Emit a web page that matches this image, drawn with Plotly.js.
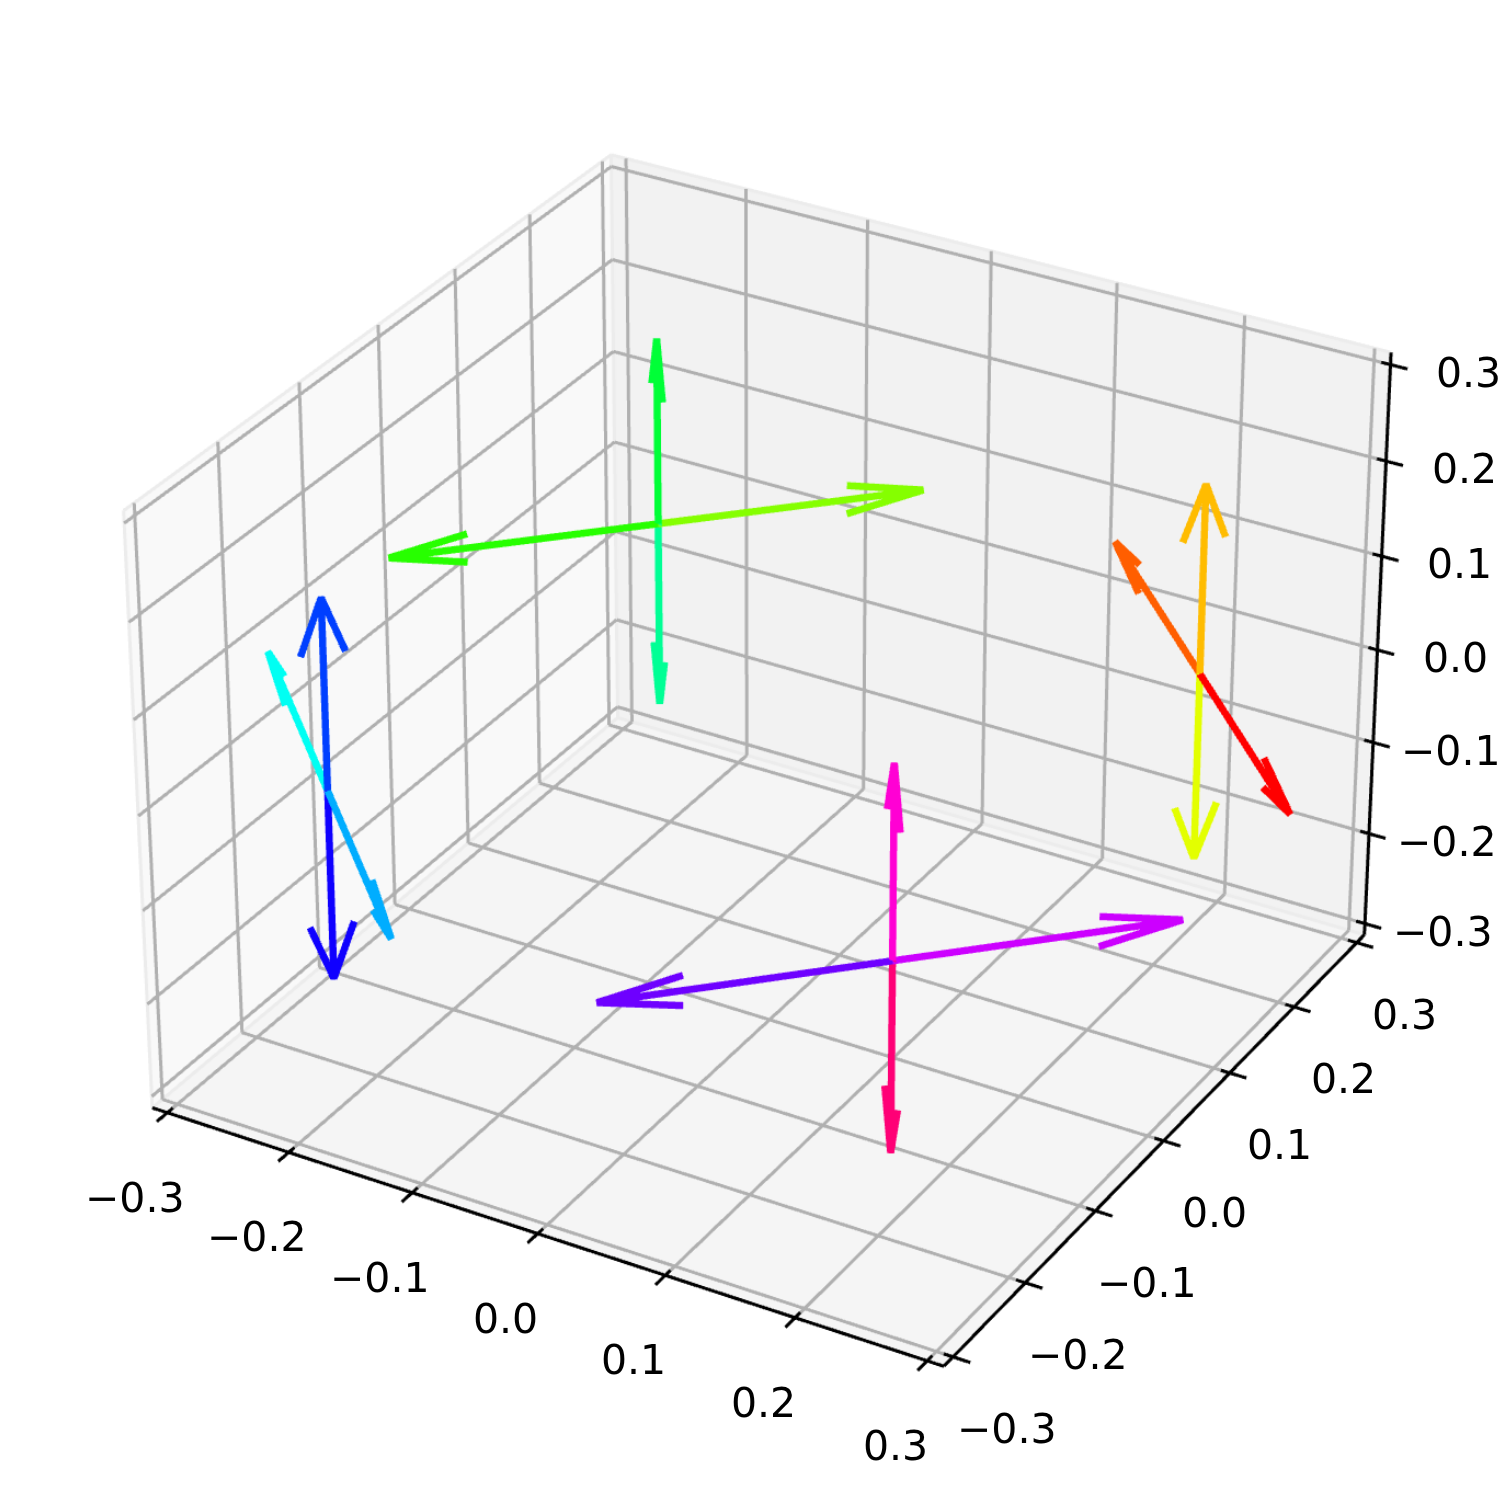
<!DOCTYPE html>
<html>
<head>
<meta charset="utf-8">
<script src="https://cdn.plot.ly/plotly-3.0.1.min.js"></script>
<style>
  html, body { margin: 0; padding: 0; width: 1500px; height: 1500px; overflow: hidden; background: #fff; }
  #chart { position: absolute; }
</style>
</head>
<body>
<div id="chart"></div>
<script>
// arrows: tail position and direction
const baseX = [0.22, 0.22, 0.22, 0.22, -0.22, -0.22, -0.22, -0.22, -0.22, -0.22, -0.22, -0.22, 0.22, 0.22, 0.22, 0.22];
const baseY = [0.22, 0.22, 0.22, 0.22, 0.22, 0.22, 0.22, 0.22, -0.22, -0.22, -0.22, -0.22, -0.22, -0.22, -0.22, -0.22];
const baseZ = [0, 0, 0, 0, 0, 0, 0, 0, 0, 0, 0, 0, 0, 0, 0, 0];
const dirU = [0.141, -0.141, 0, 0, 0.141, -0.141, 0, 0, -0.141, 0.141, 0, 0, -0.141, 0.141, 0, 0];
const dirV = [-0.141, 0.141, 0, 0, 0.141, -0.141, 0, 0, 0.141, -0.141, 0, 0, -0.141, 0.141, 0, 0];
const dirW = [0, 0, 0.2, -0.2, 0, 0, 0.2, -0.2, 0, 0, 0.2, -0.2, 0, 0, 0.2, -0.2];
const arrowColors = ['#ff0000', '#ff5e00', '#ffbc00', '#e3ff00', '#85ff00', '#27ff00', '#00ff37', '#00ff95',
                     '#00fff3', '#00adff', '#003fff', '#0f00ff', '#6e00ff', '#cc00ff', '#ff00d4', '#ff0076'];

const tickValues = [-0.3, -0.2, -0.1, 0, 0.1, 0.2, 0.3];
const tickLabels = ['\u22120.3', '\u22120.2', '\u22120.1', '0.0', '0.1', '0.2', '0.3'];
const LIM = 0.3125;
// plotly clips at the axis range and the arrows stick out of the box, so the real range is wider
const RANGE = 0.6;

// size of the gl canvas: big enough to get the same weak perspective as the reference
const SIZE = 6313;
const CENTER_X = 769;
const CENTER_Y = 731;

const ASPECT_XY = 1.19;
const ASPECT_Z = 0.893;
const EYE = [4.33, -7.5, 5];
const EYE_DATA = [EYE[0] * 2 * LIM / ASPECT_XY, EYE[1] * 2 * LIM / ASPECT_XY, EYE[2] * 2 * LIM / ASPECT_Z];

const HEAD_RATIO = 0.3;
const HEAD_ANGLE = 15 * Math.PI / 180;

// slide a point away from the eye: it lands on the same pixel but deeper,
// so arrow tips poking through a pane are still drawn on top of it
function behind(p, s) {
  return [0, 1, 2].map(function (k) { return EYE_DATA[k] + s * (p[k] - EYE_DATA[k]); });
}

function segments(list, color, width, depth) {
  var x = [], y = [], z = [];
  list.forEach(function (s) {
    var a = depth ? behind(s[0], depth) : s[0];
    var b = depth ? behind(s[1], depth) : s[1];
    x.push(a[0], b[0], null);
    y.push(a[1], b[1], null);
    z.push(a[2], b[2], null);
  });
  return {
    type: 'scatter3d', mode: 'lines', x: x, y: y, z: z,
    line: { color: color, width: width },
    hoverinfo: 'skip', showlegend: false
  };
}

function pane(corners, color) {
  var pts = corners.map(function (p) { return behind(p, 1.03); });
  return {
    type: 'mesh3d',
    x: pts.map(function (p) { return p[0]; }),
    y: pts.map(function (p) { return p[1]; }),
    z: pts.map(function (p) { return p[2]; }),
    i: [0, 0], j: [1, 2], k: [2, 3],
    color: color, opacity: 1, flatshading: true,
    lighting: { ambient: 1, diffuse: 0, specular: 0, fresnel: 0, roughness: 1 },
    hoverinfo: 'skip', showscale: false
  };
}

function arrowTrace(i) {
  var tail = [baseX[i], baseY[i], baseZ[i]];
  var d = [dirU[i], dirV[i], dirW[i]];
  var tip = [tail[0] + d[0], tail[1] + d[1], tail[2] + d[2]];
  var len = Math.sqrt(d[0] * d[0] + d[1] * d[1] + d[2] * d[2]);
  // the two head strokes open in the vertical plane, or radially for the upright arrows
  var side;
  if (d[2] === 0) {
    side = [0, 0, 1];
  } else {
    var r = Math.sqrt(tail[0] * tail[0] + tail[1] * tail[1]);
    side = [tail[0] / r, tail[1] / r, 0];
  }
  var back = HEAD_RATIO * Math.cos(HEAD_ANGLE);
  var open = HEAD_RATIO * len * Math.sin(HEAD_ANGLE);
  var h1 = [0, 1, 2].map(function (k) { return tip[k] - d[k] * back + side[k] * open; });
  var h2 = [0, 1, 2].map(function (k) { return tip[k] - d[k] * back - side[k] * open; });
  return {
    type: 'scatter3d', mode: 'lines',
    x: [tail[0], tip[0], null, h1[0], tip[0], h2[0]],
    y: [tail[1], tip[1], null, h1[1], tip[1], h2[1]],
    z: [tail[2], tip[2], null, h1[2], tip[2], h2[2]],
    line: { color: arrowColors[i], width: 6.5 },
    hoverinfo: 'skip', showlegend: false
  };
}

var grid = [], ticks = [], edges = [];
tickValues.forEach(function (t) {
  grid.push([[t, -LIM, -LIM], [t, LIM, -LIM]], [[t, LIM, -LIM], [t, LIM, LIM]]);
  grid.push([[-LIM, t, -LIM], [LIM, t, -LIM]], [[-LIM, t, -LIM], [-LIM, t, LIM]]);
  grid.push([[-LIM, -LIM, t], [-LIM, LIM, t]], [[-LIM, LIM, t], [LIM, LIM, t]]);
  ticks.push([[t, -LIM + 0.007, -LIM], [t, -LIM - 0.013, -LIM]]);
  ticks.push([[LIM - 0.007, t, -LIM], [LIM + 0.013, t, -LIM]]);
  ticks.push([[LIM - 0.007, LIM, t], [LIM + 0.013, LIM, t]]);
});
edges.push([[-LIM, -LIM, -LIM], [-LIM, LIM, -LIM]], [[-LIM, LIM, -LIM], [LIM, LIM, -LIM]]);
edges.push([[-LIM, LIM, -LIM], [-LIM, LIM, LIM]], [[-LIM, -LIM, LIM], [-LIM, LIM, LIM]]);
edges.push([[-LIM, LIM, LIM], [LIM, LIM, LIM]], [[-LIM, -LIM, -LIM], [-LIM, -LIM, LIM]]);
edges.push([[LIM, LIM, -LIM], [LIM, LIM, LIM]], [[LIM, -LIM, -LIM], [LIM, LIM, -LIM]]);
edges.push([[-LIM, -LIM, -LIM], [LIM, -LIM, -LIM]]);
var spines = [
  [[-LIM, -LIM, -LIM], [LIM, -LIM, -LIM]],
  [[LIM, -LIM, -LIM], [LIM, LIM, -LIM]],
  [[LIM, LIM, -LIM], [LIM, LIM, LIM]]
];

var data = [
  pane([[-LIM, -LIM, -LIM], [-LIM, LIM, -LIM], [-LIM, LIM, LIM], [-LIM, -LIM, LIM]], '#f9f9f9'),
  pane([[-LIM, LIM, -LIM], [LIM, LIM, -LIM], [LIM, LIM, LIM], [-LIM, LIM, LIM]], '#f2f2f2'),
  pane([[-LIM, -LIM, -LIM], [LIM, -LIM, -LIM], [LIM, LIM, -LIM], [-LIM, LIM, -LIM]], '#f5f5f5'),
  segments(edges, '#ececec', 3, 1.025),
  segments(grid, '#b0b0b0', 3, 1.02),
  segments(spines, '#000000', 3),
  segments(ticks, '#000000', 3)
];
for (var i = 0; i < baseX.length; i++) {
  data.push(arrowTrace(i));
}

function label(x, y, z, text, dx, dy) {
  return {
    x: x, y: y, z: z, text: text, showarrow: false,
    xanchor: 'center', yanchor: 'middle', xshift: dx, yshift: -dy,
    font: { family: 'DejaVu Sans', size: 41, color: '#000000' }
  };
}

var annotations = [];
tickValues.forEach(function (t, k) {
  annotations.push(label(t, -LIM, -LIM, tickLabels[k], -32, 85));
  annotations.push(label(LIM, t, -LIM, tickLabels[k], 51 - 10 * t, 72));
  annotations.push(label(LIM, LIM, t, tickLabels[k], 78, 8));
});

function bareAxis() {
  return {
    range: [-RANGE, RANGE], autorange: false, title: { text: '' },
    showgrid: false, zeroline: false, showline: false, showticklabels: false, ticks: '',
    showspikes: false, showbackground: false
  };
}

var layout = {
  width: SIZE, height: SIZE,
  margin: { l: 0, r: 0, t: 0, b: 0 },
  paper_bgcolor: '#ffffff',
  showlegend: false,
  scene: {
    domain: { x: [0, 1], y: [0, 1] },
    aspectmode: 'manual',
    aspectratio: { x: ASPECT_XY * RANGE / LIM, y: ASPECT_XY * RANGE / LIM, z: ASPECT_Z * RANGE / LIM },
    camera: {
      eye: { x: EYE[0], y: EYE[1], z: EYE[2] },
      up: { x: 0, y: 0, z: 1 },
      center: { x: 0, y: 0, z: 0 }
    },
    xaxis: bareAxis(),
    yaxis: bareAxis(),
    zaxis: bareAxis(),
    annotations: annotations
  }
};

var chart = document.getElementById('chart');
chart.style.left = (CENTER_X - SIZE / 2) + 'px';
chart.style.top = (CENTER_Y - SIZE / 2) + 'px';
Plotly.newPlot(chart, data, layout, { displayModeBar: false });
</script>
</body>
</html>
